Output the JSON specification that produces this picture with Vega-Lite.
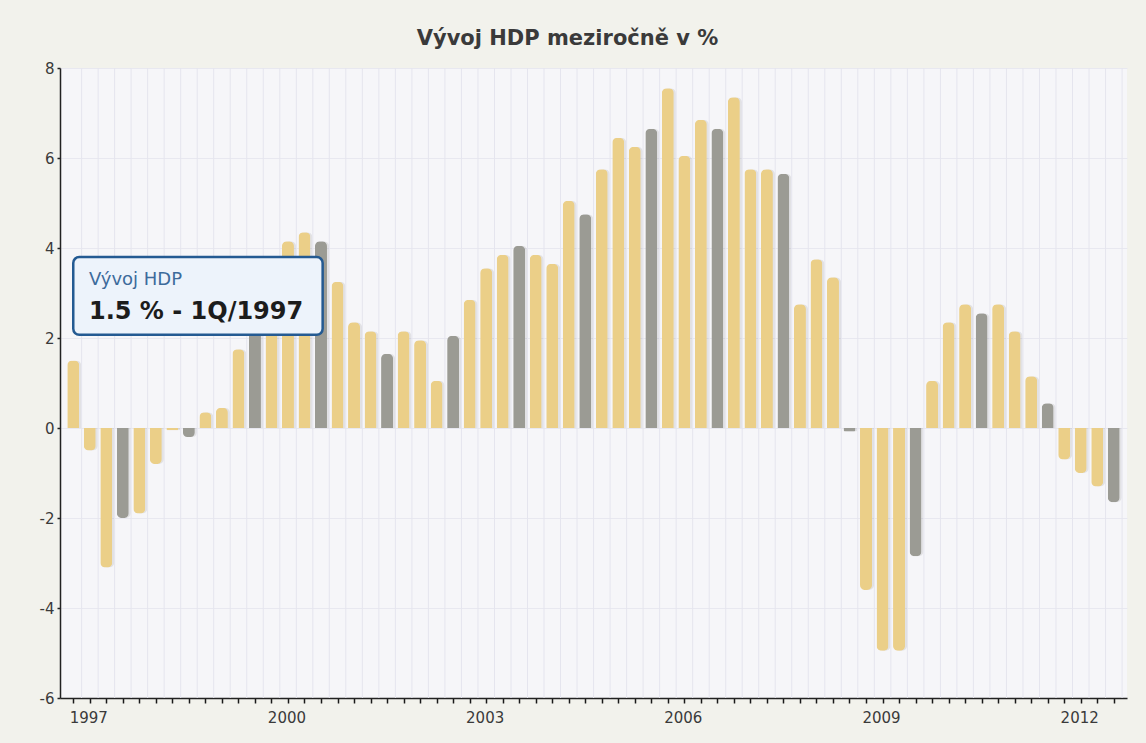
{
  "$schema": "https://vega.github.io/schema/vega-lite/v6.json",
  "width": 1067,
  "height": 630,
  "autosize": {"type": "none"},
  "padding": {"left": 60, "top": 68, "right": 19, "bottom": 45},
  "background": "#f2f2ec",
  "title": {
    "text": "Vývoj HDP meziročně v %",
    "font": "DejaVu Sans",
    "fontSize": 21,
    "fontWeight": "bold",
    "color": "#3a3a3a",
    "anchor": "middle",
    "dx": -26,
    "offset": 12
  },
  "config": {
    "view": {"stroke": null, "fill": "#f6f6f9"},
    "axis": {"labelFont": "DejaVu Sans", "labelFontSize": 15, "labelColor": "#3a3a3a", "title": null},
    "axisX": {
      "labelOverlap": false,
      "labelOffset": 15,
      "labelPadding": 7,
      "tickSize": 5,
      "tickWidth": 1.5,
      "tickColor": "#1a1a1a",
      "domainColor": "#222",
      "domainWidth": 1.5,
      "grid": false
    },
    "axisY": {
      "tickSize": 3,
      "tickWidth": 1.5,
      "tickColor": "#222",
      "labelPadding": 3,
      "domainColor": "#222",
      "domainWidth": 1.5,
      "grid": true,
      "gridColor": "#e8e8f0"
    }
  },
  "datasets": {
    "hdp": [
      {"q": "1Q/1997", "i": 1, "v": 1.5, "t": "o"},
      {"q": "2Q/1997", "i": 2, "v": -0.5, "t": "o"},
      {"q": "3Q/1997", "i": 3, "v": -3.1, "t": "o"},
      {"q": "4Q/1997", "i": 4, "v": -2.0, "t": "q4"},
      {"q": "1Q/1998", "i": 5, "v": -1.9, "t": "o"},
      {"q": "2Q/1998", "i": 6, "v": -0.8, "t": "o"},
      {"q": "3Q/1998", "i": 7, "v": -0.05, "t": "o"},
      {"q": "4Q/1998", "i": 8, "v": -0.2, "t": "q4"},
      {"q": "1Q/1999", "i": 9, "v": 0.35, "t": "o"},
      {"q": "2Q/1999", "i": 10, "v": 0.45, "t": "o"},
      {"q": "3Q/1999", "i": 11, "v": 1.75, "t": "o"},
      {"q": "4Q/1999", "i": 12, "v": 2.6, "t": "q4"},
      {"q": "1Q/2000", "i": 13, "v": 3.3, "t": "o"},
      {"q": "2Q/2000", "i": 14, "v": 4.15, "t": "o"},
      {"q": "3Q/2000", "i": 15, "v": 4.35, "t": "o"},
      {"q": "4Q/2000", "i": 16, "v": 4.15, "t": "q4"},
      {"q": "1Q/2001", "i": 17, "v": 3.25, "t": "o"},
      {"q": "2Q/2001", "i": 18, "v": 2.35, "t": "o"},
      {"q": "3Q/2001", "i": 19, "v": 2.15, "t": "o"},
      {"q": "4Q/2001", "i": 20, "v": 1.65, "t": "q4"},
      {"q": "1Q/2002", "i": 21, "v": 2.15, "t": "o"},
      {"q": "2Q/2002", "i": 22, "v": 1.95, "t": "o"},
      {"q": "3Q/2002", "i": 23, "v": 1.05, "t": "o"},
      {"q": "4Q/2002", "i": 24, "v": 2.05, "t": "q4"},
      {"q": "1Q/2003", "i": 25, "v": 2.85, "t": "o"},
      {"q": "2Q/2003", "i": 26, "v": 3.55, "t": "o"},
      {"q": "3Q/2003", "i": 27, "v": 3.85, "t": "o"},
      {"q": "4Q/2003", "i": 28, "v": 4.05, "t": "q4"},
      {"q": "1Q/2004", "i": 29, "v": 3.85, "t": "o"},
      {"q": "2Q/2004", "i": 30, "v": 3.65, "t": "o"},
      {"q": "3Q/2004", "i": 31, "v": 5.05, "t": "o"},
      {"q": "4Q/2004", "i": 32, "v": 4.75, "t": "q4"},
      {"q": "1Q/2005", "i": 33, "v": 5.75, "t": "o"},
      {"q": "2Q/2005", "i": 34, "v": 6.45, "t": "o"},
      {"q": "3Q/2005", "i": 35, "v": 6.25, "t": "o"},
      {"q": "4Q/2005", "i": 36, "v": 6.65, "t": "q4"},
      {"q": "1Q/2006", "i": 37, "v": 7.55, "t": "o"},
      {"q": "2Q/2006", "i": 38, "v": 6.05, "t": "o"},
      {"q": "3Q/2006", "i": 39, "v": 6.85, "t": "o"},
      {"q": "4Q/2006", "i": 40, "v": 6.65, "t": "q4"},
      {"q": "1Q/2007", "i": 41, "v": 7.35, "t": "o"},
      {"q": "2Q/2007", "i": 42, "v": 5.75, "t": "o"},
      {"q": "3Q/2007", "i": 43, "v": 5.75, "t": "o"},
      {"q": "4Q/2007", "i": 44, "v": 5.65, "t": "q4"},
      {"q": "1Q/2008", "i": 45, "v": 2.75, "t": "o"},
      {"q": "2Q/2008", "i": 46, "v": 3.75, "t": "o"},
      {"q": "3Q/2008", "i": 47, "v": 3.35, "t": "o"},
      {"q": "4Q/2008", "i": 48, "v": -0.08, "t": "q4"},
      {"q": "1Q/2009", "i": 49, "v": -3.6, "t": "o"},
      {"q": "2Q/2009", "i": 50, "v": -4.95, "t": "o"},
      {"q": "3Q/2009", "i": 51, "v": -4.95, "t": "o"},
      {"q": "4Q/2009", "i": 52, "v": -2.85, "t": "q4"},
      {"q": "1Q/2010", "i": 53, "v": 1.05, "t": "o"},
      {"q": "2Q/2010", "i": 54, "v": 2.35, "t": "o"},
      {"q": "3Q/2010", "i": 55, "v": 2.75, "t": "o"},
      {"q": "4Q/2010", "i": 56, "v": 2.55, "t": "q4"},
      {"q": "1Q/2011", "i": 57, "v": 2.75, "t": "o"},
      {"q": "2Q/2011", "i": 58, "v": 2.15, "t": "o"},
      {"q": "3Q/2011", "i": 59, "v": 1.15, "t": "o"},
      {"q": "4Q/2011", "i": 60, "v": 0.55, "t": "q4"},
      {"q": "1Q/2012", "i": 61, "v": -0.7, "t": "o"},
      {"q": "2Q/2012", "i": 62, "v": -1.0, "t": "o"},
      {"q": "3Q/2012", "i": 63, "v": -1.3, "t": "o"},
      {"q": "4Q/2012", "i": 64, "v": -1.65, "t": "q4"}
    ],
    "note": [{"series": "Vývoj HDP", "label": "1.5 % - 1Q/1997"}]
  },
  "layer": [
    {
      "data": {"name": "hdp"},
      "encoding": {
        "x": {
          "field": "i", "type": "quantitative",
          "scale": {"domain": [0.5, 64.5], "nice": false, "zero": false},
          "axis": {
            "values": [1,2,3,4,5,6,7,8,9,10,11,12,13,14,15,16,17,18,19,20,21,22,23,24,25,26,27,28,29,30,31,32,33,34,35,36,37,38,39,40,41,42,43,44,45,46,47,48,49,50,51,52,53,54,55,56,57,58,59,60,61,62,63,64],
            "tickCount": 100,
            "labelExpr": "datum.value % 12 == 1 ? toString(1997 + (datum.value - 1) / 4) : ''"
          }
        },
        "y": {
          "field": "v", "type": "quantitative",
          "scale": {"domain": [-6, 8], "nice": false},
          "axis": {"values": [-6, -4, -2, 0, 2, 4, 6, 8], "labelExpr": "toString(datum.value)"}
        }
      },
      "layer": [
        {
          "mark": {"type": "rule", "color": "#e5e5ee", "strokeWidth": 1},
          "encoding": {
            "y": null,
            "xOffset": {"value": 8.33}
          }
        },
        {
          "transform": [{"filter": "datum.v >= 0"}],
          "mark": {"type": "bar", "width": 12, "cornerRadiusTopLeft": 5, "cornerRadiusTopRight": 5, "color": "#000", "opacity": 0.08, "xOffset": 2}
        },
        {
          "transform": [{"filter": "datum.v < 0"}],
          "mark": {"type": "bar", "width": 12, "cornerRadiusBottomLeft": 5, "cornerRadiusBottomRight": 5, "color": "#000", "opacity": 0.08, "xOffset": 2}
        },
        {
          "transform": [{"filter": "datum.v >= 0"}],
          "mark": {"type": "bar", "width": 12, "cornerRadiusTopLeft": 5, "cornerRadiusTopRight": 5},
          "encoding": {
            "color": {
              "field": "t", "type": "nominal", "legend": null,
              "scale": {"domain": ["o", "q4"], "range": ["#ebcf88", "#9b9b94"]}
            }
          }
        },
        {
          "transform": [{"filter": "datum.v < 0"}],
          "mark": {"type": "bar", "width": 12, "cornerRadiusBottomLeft": 5, "cornerRadiusBottomRight": 5},
          "encoding": {
            "color": {
              "field": "t", "type": "nominal", "legend": null,
              "scale": {"domain": ["o", "q4"], "range": ["#ebcf88", "#9b9b94"]}
            }
          }
        }
      ]
    },
    {
      "data": {"name": "note"},
      "mark": {"type": "rect", "cornerRadius": 6, "color": "#000", "opacity": 0.18, "xOffset": 3, "yOffset": 3},
      "encoding": {
        "x": {"datum": 1, "type": "quantitative"},
        "x2": {"datum": 16.1},
        "y": {"datum": 3.8, "type": "quantitative"},
        "y2": {"datum": 2.07}
      }
    },
    {
      "data": {"name": "note"},
      "mark": {"type": "rect", "cornerRadius": 6, "fill": "#edf3fb", "stroke": "#245a92", "strokeWidth": 2.5},
      "encoding": {
        "x": {"datum": 1, "type": "quantitative"},
        "x2": {"datum": 16.1},
        "y": {"datum": 3.8, "type": "quantitative"},
        "y2": {"datum": 2.07}
      }
    },
    {
      "data": {"name": "note"},
      "mark": {"type": "text", "align": "left", "baseline": "middle", "font": "DejaVu Sans", "fontSize": 18, "color": "#3d6b9b"},
      "encoding": {
        "x": {"datum": 1.95, "type": "quantitative"},
        "y": {"datum": 3.29, "type": "quantitative"},
        "text": {"field": "series"}
      }
    },
    {
      "data": {"name": "note"},
      "mark": {"type": "text", "align": "left", "baseline": "middle", "font": "DejaVu Sans", "fontSize": 24, "fontWeight": "bold", "color": "#1c1c1c"},
      "encoding": {
        "x": {"datum": 1.95, "type": "quantitative"},
        "y": {"datum": 2.58, "type": "quantitative"},
        "text": {"field": "label"}
      }
    }
  ]
}
